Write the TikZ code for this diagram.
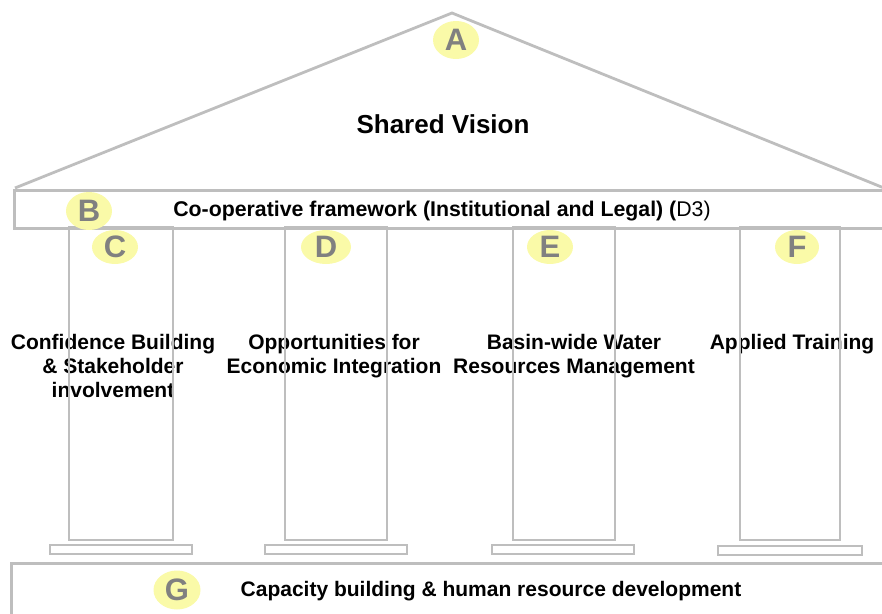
\documentclass[tikz,border=0pt]{standalone}
\usepackage{fontspec}
\setmainfont{Liberation Sans}
\usepackage{tikz}
\usetikzlibrary{shapes.geometric, positioning}

\definecolor{framegray}{RGB}{190,190,190}
\definecolor{lettergray}{RGB}{128,128,128}
\definecolor{badgeyellow}{RGB}{250,250,168}

\begin{document}
\begin{tikzpicture}[
            x=1pt, y=-1pt,
            every node/.style={font=\bfseries\fontsize{21}{24}\selectfont},
            outline/.style={rectangle, draw=framegray, line width=2.8pt, inner sep=0pt},
            pillar/.style={outline, minimum height=313pt},
            plinth/.style={outline, minimum height=9pt},
            label/.style={align=center, anchor=north},
            badge/.style={ellipse, fill=badgeyellow, inner sep=0pt, minimum width=46pt, minimum height=36pt, text=lettergray, font=\bfseries\fontsize{31}{31}\selectfont}
        ]

            \useasboundingbox (0,0) rectangle (882,613);

            % Dach
            \draw [framegray, line width=2.8pt, line join=miter] (15,188) -- (452,13) -- (884,188);
            \node (vision) at (443,124) [font=\bfseries\fontsize{26}{30}\selectfont] {Shared Vision};

            % Gebälk
            \node (lintel) [outline, anchor=north west, minimum width=875pt, minimum height=38pt] at (13,189) {};
            \node (framework) at (442,211) [font=\bfseries\fontsize{21.3}{24}\selectfont] {Co-operative framework (Institutional and Legal) ({\mdseries D3)}};

            % Beschriftung der Säulen
            \node (textC) [label] at (113,331) {Confidence Building\\\& Stakeholder\\involvement};
            \node (textD) [label] at (334,331) {Opportunities for\\Economic Integration};
            \node (textE) [label] at (574,331) {Basin-wide Water\\Resources Management};
            \node (textF) [label] at (792,331) {Applied Training};

            % Säulen
            \node (pillarC) [pillar, minimum width=104pt] at (121,383.5) {};
            \node (pillarD) [pillar, minimum width=102pt] at (336,383.5) {};
            \node (pillarE) [pillar, minimum width=102pt] at (564,383.5) {};
            \node (pillarF) [pillar, minimum width=100pt] at (790,383.5) {};

            % Sockel
            \node (plinthC) [plinth, minimum width=142pt] at (121,549.5) {};
            \node (plinthD) [plinth, minimum width=142pt] at (336,549.5) {};
            \node (plinthE) [plinth, minimum width=142pt] at (563,549.5) {};
            \node (plinthF) [plinth, minimum width=144pt] at (790,550.5) {};

            % Fundament
            \node (base) [outline, anchor=north west, minimum width=880pt, minimum height=60pt] at (10,562) {};
            \node (capacity) at (491,591) {Capacity building \& human resource development};

            % Buchstaben
            \node (badgeA) [badge, minimum height=38pt] at (456,40) {A};
            \node (badgeB) [badge, minimum height=38pt] at (89,211) {B};
            \node (badgeC) [badge, minimum height=34pt] at (115,247) {C};
            \node (badgeD) [badge, minimum width=50pt, minimum height=34pt] at (326,247) {D};
            \node (badgeE) [badge, minimum height=34pt] at (550,247) {E};
            \node (badgeF) [badge, minimum width=44pt, minimum height=34pt] at (797,247) {F};
            \node (badgeG) [badge, minimum width=47pt, minimum height=39pt] at (177,590) {G};

        \end{tikzpicture}
\end{document}
